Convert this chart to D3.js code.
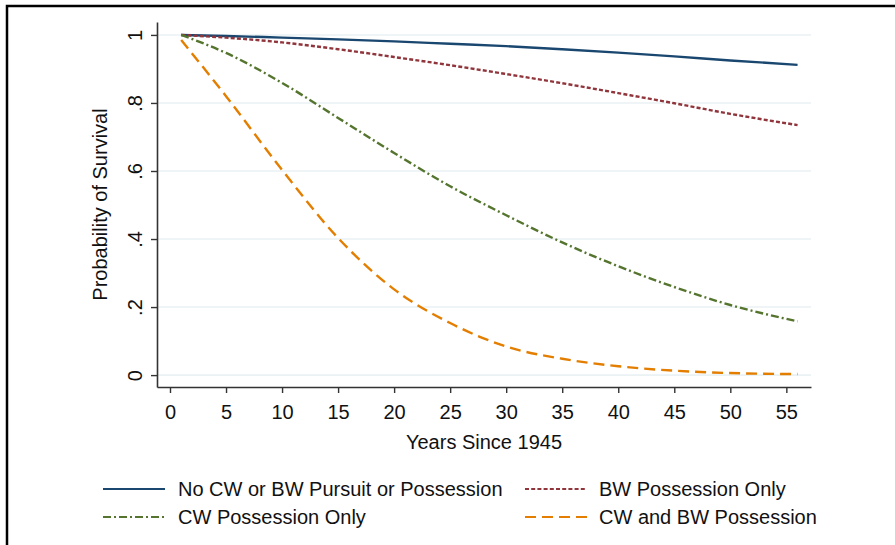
<!DOCTYPE html>
<html>
<head>
<meta charset="utf-8">
<script src="https://cdn.jsdelivr.net/npm/d3@7"></script>
<style>
    body { margin: 0; background: #fff; }
    svg { font-family: "Liberation Sans", Arial, sans-serif; }
</style>
</head>
<body>
<div id="chart"></div>
<script>
"use strict";

const years = [1, 5, 10, 15, 20, 25, 30, 35, 40, 45, 50, 56];
const noPursuit = [1.0, 0.997, 0.992, 0.987, 0.981, 0.974, 0.967, 0.958, 0.948, 0.937, 0.925, 0.912];
const bwOnly = [1.0, 0.992, 0.978, 0.958, 0.935, 0.911, 0.885, 0.858, 0.829, 0.799, 0.768, 0.735];
const cwOnly = [1.0, 0.947, 0.859, 0.756, 0.653, 0.555, 0.47, 0.39, 0.32, 0.259, 0.206, 0.158];
const cwAndBw = [0.985, 0.82, 0.603, 0.403, 0.252, 0.153, 0.084, 0.048, 0.026, 0.013, 0.006, 0.003];

const xTicks = [0, 5, 10, 15, 20, 25, 30, 35, 40, 45, 50, 55];
const yTicks = [0, 0.2, 0.4, 0.6, 0.8, 1];
const yTickLabels = ["0", ".2", ".4", ".6", ".8", "1"];

const seriesNames = [
    "No CW or BW Pursuit or Possession",
    "BW Possession Only",
    "CW Possession Only",
    "CW and BW Possession"
];
const seriesValues = [noPursuit, bwOnly, cwOnly, cwAndBw];

const STYLES = [
    { color: "#1a476f", dash: null },
    { color: "#90353b", dash: "4,2.2" },
    { color: "#55752f", dash: "8,3,2,3" },
    { color: "#e37e00", dash: "11,6" }
];

const WIDTH = 895;
const HEIGHT = 545;
const PLOT = { left: 157, right: 811, top: 22, bottom: 387 };
const FONT = 20;

const svg = d3.select("#chart")
    .append("svg")
    .attr("width", WIDTH)
    .attr("height", HEIGHT);

// outer frame (right/bottom edges fall outside the picture)
svg.append("rect")
    .attr("x", 7)
    .attr("y", 6)
    .attr("width", 1000)
    .attr("height", 1000)
    .attr("fill", "none")
    .attr("stroke", "#000")
    .attr("stroke-width", 2.5);

const x = d3.scaleLinear().domain([-1.16, 57.2]).range([PLOT.left, PLOT.right]);
const y = d3.scaleLinear().domain([-0.035, 1.038]).range([PLOT.bottom, PLOT.top]);

// gridlines
svg.append("g")
    .selectAll("line")
    .data(yTicks)
    .join("line")
    .attr("x1", PLOT.left)
    .attr("x2", PLOT.right)
    .attr("y1", d => y(d))
    .attr("y2", d => y(d))
    .attr("stroke", "#eaf2f3")
    .attr("stroke-width", 1.6);

// y axis
const yAxis = svg.append("g")
    .attr("transform", `translate(${PLOT.left},0)`)
    .call(d3.axisLeft(y)
        .tickValues(yTicks)
        .tickFormat((_, i) => yTickLabels[i])
        .tickSize(6)
        .tickPadding(8)
        .tickSizeOuter(0));

yAxis.select(".domain").attr("stroke", "#333").attr("stroke-width", 1.6);
yAxis.selectAll(".tick line").attr("stroke", "#333").attr("stroke-width", 1.4);
yAxis.selectAll(".tick text")
    .attr("font-size", FONT)
    .attr("fill", "#111")
    .attr("text-anchor", "middle")
    .attr("dy", 0)
    .attr("x", 0)
    .attr("y", 0)
    .attr("transform", "translate(-15,0) rotate(-90)");

// x axis
const xAxis = svg.append("g")
    .attr("transform", `translate(0,${PLOT.bottom})`)
    .call(d3.axisBottom(x)
        .tickValues(xTicks)
        .tickSize(6)
        .tickPadding(12)
        .tickSizeOuter(0));

xAxis.select(".domain").attr("stroke", "#333").attr("stroke-width", 1.6);
xAxis.selectAll(".tick line").attr("stroke", "#333").attr("stroke-width", 1.4);
xAxis.selectAll(".tick text")
    .attr("font-size", FONT)
    .attr("fill", "#111");

// axis titles
svg.append("text")
    .attr("x", (PLOT.left + PLOT.right) / 2)
    .attr("y", 449)
    .attr("text-anchor", "middle")
    .attr("font-size", FONT)
    .attr("fill", "#111")
    .text("Years Since 1945");

svg.append("text")
    .attr("transform", `translate(107, ${(PLOT.top + PLOT.bottom) / 2}) rotate(-90)`)
    .attr("text-anchor", "middle")
    .attr("font-size", FONT)
    .attr("fill", "#111")
    .text("Probability of Survival");

// survival curves
const line = d3.line()
    .x((_, i) => x(years[i]))
    .y(d => y(d))
    .curve(d3.curveMonotoneX);

svg.append("g")
    .selectAll("path")
    .data(seriesValues)
    .join("path")
    .attr("d", line)
    .attr("fill", "none")
    .attr("stroke", (_, i) => STYLES[i].color)
    .attr("stroke-width", 2.4)
    .attr("stroke-dasharray", (_, i) => STYLES[i].dash);

// legend, two columns
const legendPos = [
    { x: 103, y: 489 },
    { x: 525, y: 489 },
    { x: 103, y: 517 },
    { x: 525, y: 517 }
];

const legend = svg.append("g")
    .selectAll("g")
    .data(seriesNames)
    .join("g")
    .attr("transform", (_, i) => `translate(${legendPos[i].x},${legendPos[i].y})`);

legend.append("line")
    .attr("x1", 0)
    .attr("x2", 62)
    .attr("stroke", (_, i) => STYLES[i].color)
    .attr("stroke-width", 2)
    .attr("stroke-dasharray", (_, i) => STYLES[i].dash);

legend.append("text")
    .attr("x", (_, i) => (i % 2 === 0 ? 75 : 74))
    .attr("dy", "0.35em")
    .attr("font-size", FONT)
    .attr("fill", "#111")
    .text(d => d);
</script>
</body>
</html>
